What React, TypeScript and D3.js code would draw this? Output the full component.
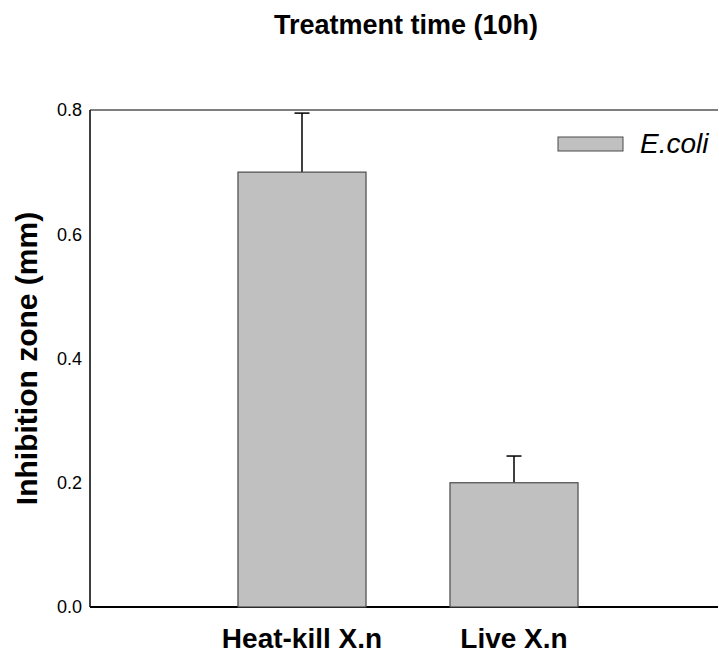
import React from "react";
import * as d3 from "d3";

const categories = ["Heat-kill X.n", "Live X.n"];
const values = [0.7, 0.2];
const errors = [0.095, 0.043];
const yTicks = [0.0, 0.2, 0.4, 0.6, 0.8];
const seriesName = "E.coli";
const title = "Treatment time (10h)";
const yLabel = "Inhibition zone (mm)";

const W = 719;
const H = 657;
const left = 90;
const right = 718;
const top = 110;
const bottom = 607;
const font = "Arial, 'Liberation Sans', Helvetica, sans-serif";

export default function App() {
  const y = d3.scaleLinear().domain([0, 0.8]).range([bottom, top]);
  const x = d3.scaleBand().domain(categories).range([196, 620]).paddingInner(0.396).paddingOuter(0.198);
  const bw = x.bandwidth();
  const fmt = d3.format(".1f");

  return (
    <svg width={W} height={H} style={{ position: "absolute", left: 0, top: 0, background: "#fff" }}>
      <text x={406} y={34} textAnchor="middle" fontFamily={font} fontWeight="bold" fontSize={27} fill="#000">
        {title}
      </text>
      {/* frame */}
      <line x1={left} x2={right} y1={top} y2={top} stroke="#000" strokeWidth={1.2} />
      <line x1={left} x2={left} y1={top} y2={bottom} stroke="#000" strokeWidth={1.5} />
      <line x1={left} x2={right} y1={bottom} y2={bottom} stroke="#000" strokeWidth={2} />
      {yTicks.map((t) => (
        <text key={t} x={82} y={y(t)} dy="0.35em" textAnchor="end" fontFamily={font} fontSize={18} fill="#000">
          {fmt(t)}
        </text>
      ))}
      {categories.map((c, i) => {
        const x0 = x(c)!;
        const cx = x0 + bw / 2;
        return (
          <g key={c}>
            <line x1={cx} x2={cx} y1={y(values[i])} y2={y(values[i] + errors[i])} stroke="#000" strokeWidth={1.5} />
            <line x1={cx - 7.5} x2={cx + 7.5} y1={y(values[i] + errors[i])} y2={y(values[i] + errors[i])} stroke="#000" strokeWidth={1.5} />
            <rect x={x0} y={y(values[i])} width={bw} height={bottom - y(values[i])} fill="#c0c0c0" stroke="#4a4a4a" strokeWidth={1.2} />
            <text x={cx} y={648} textAnchor="middle" fontFamily={font} fontWeight="bold" fontSize={28} fill="#000">
              {c}
            </text>
          </g>
        );
      })}
      <rect x={558} y={137} width={65} height={14} fill="#c0c0c0" stroke="#4a4a4a" strokeWidth={1} />
      <text x={640} y={153} fontFamily={font} fontStyle="italic" fontSize={28} fill="#000">
        {seriesName}
      </text>
      <text
        transform={`translate(37, ${(top + bottom) / 2}) rotate(-90)`}
        textAnchor="middle"
        fontFamily={font}
        fontWeight="bold"
        fontSize={30}
        fill="#000"
      >
        {yLabel}
      </text>
    </svg>
  );
}
